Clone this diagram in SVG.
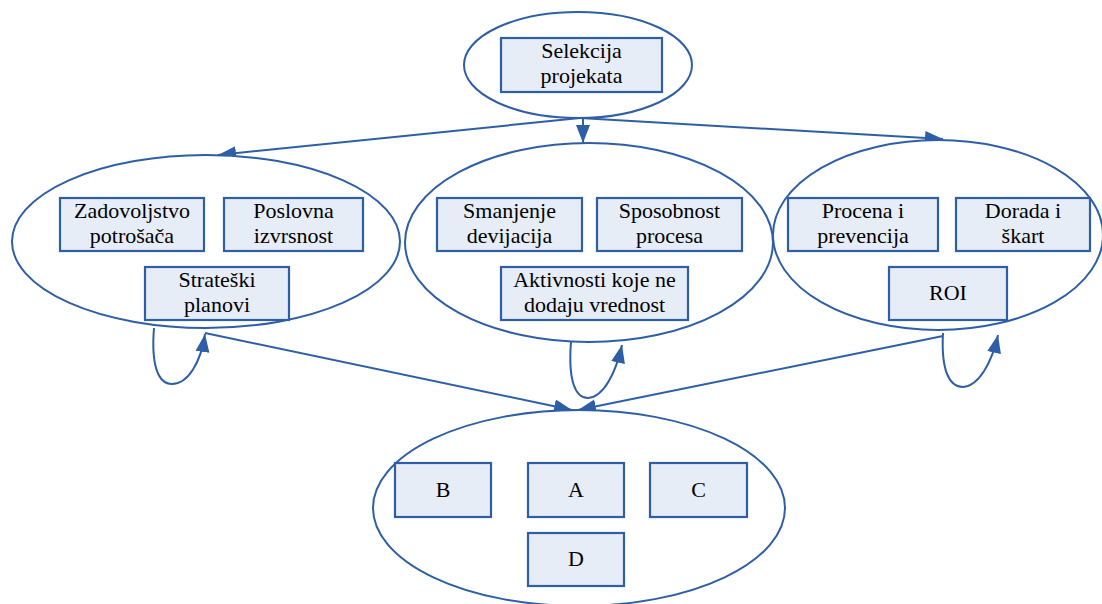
<svg xmlns="http://www.w3.org/2000/svg" width="1102" height="604" viewBox="0 0 1102 604">
  <style>
    .grp { fill: #ffffff; stroke: #2e5fa6; stroke-width: 2; }
    .box { fill: #e7edf7; stroke: #2e5fa6; stroke-width: 2.2; }
    .edge { fill: none; stroke: #2e5fa6; stroke-width: 2; }
  </style>
  <defs>
    <marker id="arrow" markerUnits="userSpaceOnUse" markerWidth="20" markerHeight="16" refX="18" refY="7" orient="auto">
      <path d="M0,0 L18,7 L0,14 Z" fill="#2e5fa6"/>
    </marker>
  </defs>
  <rect width="1102" height="604" fill="#ffffff"/>

  <!-- connectors -->
  <g id="connectors">
    <line class="edge" x1="580" y1="118" x2="218" y2="155" marker-end="url(#arrow)"/>
    <line class="edge" x1="583" y1="118" x2="583" y2="143" marker-end="url(#arrow)"/>
    <line class="edge" x1="580" y1="118" x2="943" y2="139" marker-end="url(#arrow)"/>
    <line class="edge" x1="790" y1="237" x2="771" y2="237" marker-end="url(#arrow)"/>
    <line class="edge" x1="205" y1="333" x2="572" y2="410" marker-end="url(#arrow)"/>
    <line class="edge" x1="943" y1="336" x2="578" y2="410" marker-end="url(#arrow)"/>
    <path class="edge" d="M154,328 C151,365 158,384 172,384 C188,384 201,362 205,334" marker-end="url(#arrow)"/>
    <path class="edge" d="M571,342 C568,380 575,398 588,398 C604,397 616,372 622,345" marker-end="url(#arrow)"/>
    <path class="edge" d="M943,333 C941,370 949,387 963,387 C979,386 992,362 998,335" marker-end="url(#arrow)"/>
  </g>

  <!-- top group -->
  <g id="selekcija" font-family="Liberation Serif, Times New Roman, serif" font-size="22" text-anchor="middle" fill="#000000">
    <ellipse class="grp" cx="578" cy="65" rx="114" ry="53"/>
    <rect class="box" x="501" y="38" width="161" height="54"/>
    <text x="581.5" y="58">Selekcija</text>
    <text x="581.5" y="83">projekata</text>
  </g>

  <!-- left group -->
  <g id="grupa-levo" font-family="Liberation Serif, Times New Roman, serif" font-size="22" text-anchor="middle" fill="#000000">
    <ellipse class="grp" cx="206" cy="241.5" rx="194" ry="86.5"/>
    <rect class="box" x="60" y="198" width="144" height="53"/>
    <text x="132" y="218">Zadovoljstvo</text>
    <text x="132" y="243">potrošača</text>
    <rect class="box" x="224" y="198" width="139" height="53"/>
    <text x="293.5" y="218">Poslovna</text>
    <text x="293.5" y="243">izvrsnost</text>
    <rect class="box" x="145" y="267" width="144" height="53"/>
    <text x="217" y="287">Strateški</text>
    <text x="217" y="312">planovi</text>
  </g>

  <!-- middle group -->
  <g id="grupa-sredina" font-family="Liberation Serif, Times New Roman, serif" font-size="22" text-anchor="middle" fill="#000000">
    <ellipse class="grp" cx="589" cy="242.5" rx="184" ry="99.5"/>
    <rect class="box" x="437" y="198" width="145" height="53"/>
    <text x="509.5" y="218">Smanjenje</text>
    <text x="509.5" y="243">devijacija</text>
    <rect class="box" x="597" y="198" width="145" height="53"/>
    <text x="669.5" y="218">Sposobnost</text>
    <text x="669.5" y="243">procesa</text>
    <rect class="box" x="501" y="267" width="187" height="53"/>
    <text x="594.5" y="287">Aktivnosti koje ne</text>
    <text x="594.5" y="312">dodaju vrednost</text>
  </g>

  <!-- right group -->
  <g id="grupa-desno" font-family="Liberation Serif, Times New Roman, serif" font-size="22" text-anchor="middle" fill="#000000">
    <ellipse class="grp" cx="938" cy="235" rx="165" ry="95"/>
    <rect class="box" x="788" y="198" width="150" height="53"/>
    <text x="863" y="218">Procena i</text>
    <text x="863" y="243">prevencija</text>
    <rect class="box" x="956" y="198" width="134" height="53"/>
    <text x="1023" y="218">Dorada i</text>
    <text x="1023" y="243">škart</text>
    <rect class="box" x="889" y="267" width="118" height="53"/>
    <text x="948" y="300">ROI</text>
  </g>

  <!-- bottom group -->
  <g id="grupa-dole" font-family="Liberation Serif, Times New Roman, serif" font-size="22" text-anchor="middle" fill="#000000">
    <ellipse class="grp" cx="579" cy="508" rx="206" ry="98"/>
    <rect class="box" x="395" y="463" width="96" height="54"/>
    <text x="443" y="497">B</text>
    <rect class="box" x="528" y="463" width="96" height="54"/>
    <text x="576" y="497">A</text>
    <rect class="box" x="650" y="463" width="97" height="54"/>
    <text x="698.5" y="497">C</text>
    <rect class="box" x="528" y="533" width="96" height="53"/>
    <text x="576" y="566">D</text>
  </g>
</svg>
